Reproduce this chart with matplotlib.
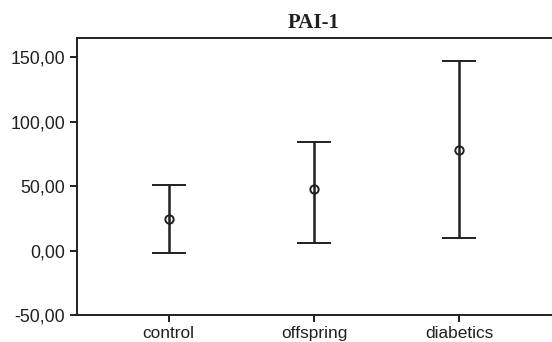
import numpy as np
import matplotlib
matplotlib.use("Agg")
import matplotlib.pyplot as plt

# data
groups = ["control", "offspring", "diabetics"]
means = [24.4, 47.9, 78.1]
upper = [50.5, 83.9, 147.1]
lower = [-1.9, 6.2, 9.5]

yticks = [-50, 0, 50, 100, 150]
ytick_labels = ["-50,00", "0,00", "50,00", "100,00", "150,00"]

ink = "#231f20"

fig = plt.figure(figsize=(5.52, 3.42), dpi=100)
ax = fig.add_axes([77 / 552, 1 - 315.3 / 342, (551 - 77) / 552, (315.3 - 38) / 342])

x = np.arange(1, len(groups) + 1)
m = np.array(means)
err = np.vstack([m - np.array(lower), np.array(upper) - m])
ax.errorbar(x, m, yerr=err, fmt="o", color=ink, ecolor=ink, elinewidth=1.8,
            capsize=12.5, capthick=1.8, markersize=6, markerfacecolor="none",
            markeredgecolor=ink, markeredgewidth=1.4)

ax.set_xlim(0.37, 3.63)
ax.set_ylim(-50, 164.7)
ax.set_xticks(x)
ax.set_xticklabels(groups)
ax.set_yticks(yticks)
ax.set_yticklabels(ytick_labels)

for s in ["left", "bottom", "top"]:
    ax.spines[s].set_linewidth(1.4)
    ax.spines[s].set_color(ink)
ax.spines["right"].set_visible(False)

ax.tick_params(axis="both", direction="out", length=5, width=1.4, color=ink,
               labelsize=12.8, labelcolor=ink, pad=3.5)
ax.tick_params(axis="x", labelsize=12.4, pad=2.5)
for lab in ax.get_xticklabels() + ax.get_yticklabels():
    lab.set_fontfamily("Liberation Sans")

ax.set_title("PAI-1", fontfamily="Liberation Serif", fontweight="bold",
             fontsize=15, color=ink, pad=7)

fig.savefig("out.png", dpi=100)
